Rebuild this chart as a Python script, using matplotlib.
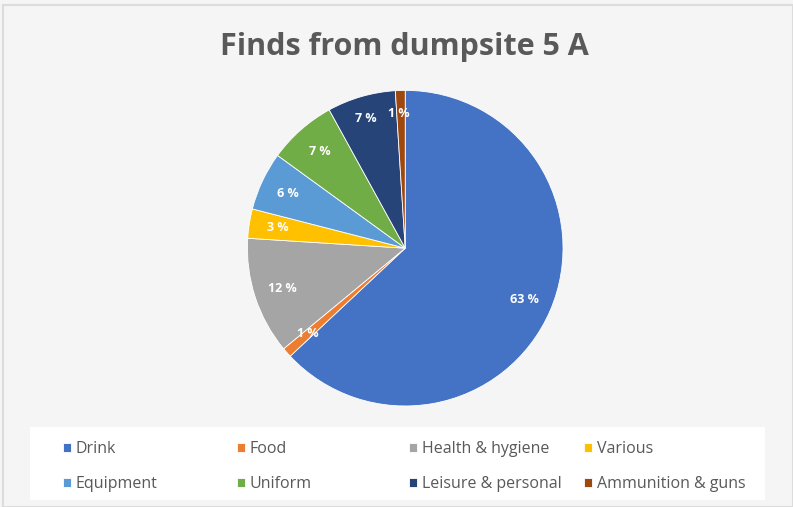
import matplotlib.pyplot as plt
from matplotlib.patches import Rectangle

# finds by category, percent
categories = ['Drink', 'Food', 'Health & hygiene', 'Various',
              'Equipment', 'Uniform', 'Leisure & personal', 'Ammunition & guns']
shares = [63, 1, 12, 3, 6, 7, 7, 1]
colors = ['#4472C4', '#ED7D31', '#A5A5A5', '#FFC000',
          '#5B9BD5', '#70AD47', '#264478', '#9E480E']

plt.rcParams['font.family'] = ['Open Sans', 'DejaVu Sans']

fig = plt.figure(figsize=(7.93, 5.07), dpi=100, facecolor='#f5f5f5')

# thin border round the chart
fig.patches.append(Rectangle((0.004, 0.0), 0.996, 0.99, transform=fig.transFigure,
                             fill=False, edgecolor='#dcdcdc', linewidth=1.5))

ax = fig.add_axes([0.312, 0.199, 0.398, 0.623])
wedges, texts, autotexts = ax.pie(
    shares, colors=colors, startangle=90, counterclock=False,
    autopct=lambda p: '%d %%' % round(p), pctdistance=0.82,
    wedgeprops=dict(edgecolor='white', linewidth=0.6),
    textprops=dict(color='white', fontsize=9, fontweight='bold'))
ax.set_xlim(-1, 1)
ax.set_ylim(-1, 1)
ax.set_aspect('equal')

# the two narrow slices at the top: labels nudged like in the original
autotexts[6].set_position((-0.25, 0.82))
autotexts[7].set_position((-0.04, 0.855))

fig.text(0.510, 0.907, 'Finds from dumpsite 5 A', ha='center', va='center',
         fontsize=22, fontweight='bold', color='#595959')

# white box behind the legend
fig.patches.append(Rectangle((0.038, 0.013), 0.927, 0.145, transform=fig.transFigure,
                             facecolor='white', edgecolor='none', zorder=0))

# legend laid out row by row, four columns at uneven spacing
col_x = [0.0794, 0.2989, 0.5158, 0.7364]
for i, x in enumerate(col_x):
    idx = [i, i + 4]
    leg = fig.legend([wedges[j] for j in idx], [categories[j] for j in idx],
                     loc='center left', bbox_to_anchor=(x, 0.080), frameon=False,
                     fontsize=11.5, handlelength=0.5, handleheight=0.5,
                     handletextpad=0.3, labelspacing=1.2, borderpad=0, borderaxespad=0)
    for t in leg.get_texts():
        t.set_color('#595959')

fig.savefig('out.png', dpi=100, facecolor=fig.get_facecolor())
